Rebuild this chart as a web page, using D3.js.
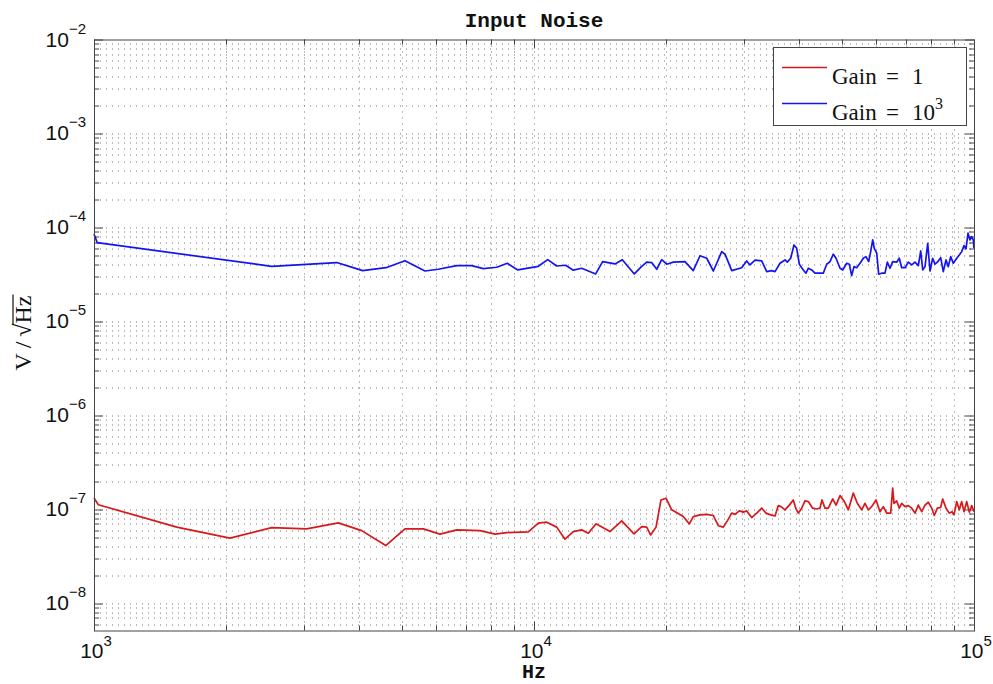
<!DOCTYPE html>
<meta charset="utf-8">
<script src="https://d3js.org/d3.v7.min.js"></script>
<style>
  body { margin: 0; background: #fff; }
</style>
<div id="my_dataviz"></div>
<script>

// ---- data ----
// Gain = 1 (values in units of 1e-8 V/sqrt(Hz))
var redFreq = [1000, 1023, 1542, 2037, 2534, 3043, 3591, 4059, 4603, 5090, 5603, 6116, 6674, 7541, 8155, 8670, 9706,
  10228, 10688, 11261, 11762, 12282, 12834, 13285, 13831, 14882, 15826, 16876, 17571, 18036, 18408, 18937, 19436, 19953,
  20558, 21834, 22542, 23014, 23840, 24696, 25563, 26233, 26932, 27505, 28145, 28630, 29280, 29900, 30436, 31246, 32072,
  32921, 33673, 34514, 35296, 35911, 36425, 37196, 38037, 38842, 39401, 39877, 40588, 41295, 42014, 42993, 43904, 44668,
  45135, 45856, 46658, 47743, 48577, 49606, 50646, 51801, 53174, 54300, 55563, 56531, 57516, 58546, 59880, 61146, 62215,
  63329, 64669, 65342, 65795, 66725, 67640, 68502, 69697, 70911, 72181, 73439, 74719, 76064, 77381, 78730, 80149, 81243,
  82525, 84003, 84880, 86375, 87868, 89125, 90074, 91351, 92601, 93759, 94908, 96261, 97566, 98810, 100000];
var redVal = [13.2, 11.2, 6.47, 4.94, 6.4, 6.2, 7.18, 5.94, 4.12, 6.2, 6.2, 5.45, 6.05, 5.94, 5.45, 5.66, 5.76,
  7.13, 7.3, 6.47, 4.82, 5.8, 6.05, 5.58, 7.01, 5.8, 7.55, 5.49, 6.56, 6.47, 5.35, 6.47, 12.6, 13.15,
  9.88, 8.38, 7.01, 8.38, 8.74, 8.85, 8.6, 6.7, 6.47, 7.55, 9.12, 8.85, 9.63, 9.34, 9.63, 8.18, 9.12,
  10.3, 9.12, 8.74, 8.5, 10.97, 10.7, 9.88, 11.1, 12.6, 10.1, 9.12, 10.3, 12.3, 12.1, 10.3, 10.1, 10.3,
  12.6, 10.3, 10.3, 12.9, 11.1, 14.0, 12.3, 9.88, 14.9, 11.6, 9.88, 11.6, 9.88, 10.7, 12.6, 9.45, 10.7,
  9.12, 9.12, 16.8, 11.6, 12.3, 10.3, 11.6, 10.7, 10.97, 10.3, 9.12, 11.1, 9.45, 11.1, 11.9, 10.3, 8.6,
  10.3, 10.5, 12.9, 10.3, 9.12, 9.45, 8.74, 12.1, 9.88, 12.1, 9.45, 12.1, 9.34, 10.97, 9.45];
var redUnit = 1e-8;

// Gain = 10^3 (values in units of 1e-5 V/sqrt(Hz))
var blueFreq = [1000, 1017, 2534, 3561, 4080, 4609, 5090, 5653, 6061, 6674, 7219, 7670, 8228, 8697, 9183,
  10228, 10743, 11261, 11803, 12282, 12834, 13809, 14324, 15279, 15873, 16904, 17571, 18036, 18515, 19006, 19508,
  20025, 20728, 22031, 23014, 23840, 24696, 25563, 26712, 27177, 28145, 29648, 30436, 30967, 31789, 32921, 33797,
  34691, 35296, 36233, 37196, 37644, 38317, 38985, 39537, 40088, 40926, 41514, 42014, 42767, 43512, 45447, 46262,
  47068, 47888, 48577, 49606, 50308, 51372, 52075, 52723, 53370, 54124, 55270, 56027, 56818, 57634, 58235, 58855,
  59345, 60102, 60728, 61687, 62763, 63533, 64430, 65342, 66725, 67640, 68502, 69697, 70911, 72181, 73439, 74719,
  75671, 76460, 77381, 78493, 79433, 80555, 81543, 82525, 84003, 85152, 86375, 87416, 88512, 89723, 91351, 92601,
  93759, 94908, 95897, 96919, 97929, 98810, 99634, 100000];
var blueVal = [8.5, 6.89, 3.86, 4.23, 3.47, 3.73, 4.43, 3.44, 3.59, 3.93, 3.93, 3.65, 3.77, 4.16, 3.53,
  3.86, 4.54, 3.89, 3.96, 3.51, 3.68, 3.2, 4.33, 4.09, 4.54, 3.2, 3.86, 4.27, 4.23, 3.59, 4.54,
  4.06, 4.27, 4.33, 3.47, 5.0, 4.7, 3.44, 5.53, 5.19, 3.47, 3.73, 4.4, 3.99, 4.48, 4.4, 3.39,
  3.47, 3.39, 4.16, 4.51, 4.27, 4.7, 6.51, 6.0, 4.06, 3.53, 3.26, 3.68, 3.53, 3.26, 3.26, 4.06,
  4.33, 5.19, 4.7, 3.68, 3.53, 4.16, 4.06, 3.07, 3.83, 3.73, 4.27, 4.7, 4.89, 4.33, 5.53, 7.36,
  6.0, 5.32, 3.18, 3.26, 3.26, 4.27, 3.68, 4.33, 4.27, 4.7, 3.73, 3.73, 4.27, 3.99, 4.27, 3.93,
  5.62, 3.53, 3.83, 6.79, 3.44, 4.7, 4.06, 4.27, 4.77, 3.39, 4.51, 3.83, 4.89, 4.16, 4.7, 5.1,
  5.53, 6.4, 5.9, 8.7, 7.36, 7.98, 7.36, 6.0];
var blueUnit = 1e-5;

var xTickExps = [3, 4, 5];
var yTickExps = [-8, -7, -6, -5, -4, -3, -2];
var seriesNames = ["Gain = 1", "Gain = 10^3"];
var seriesColors = ["#d7191c", "#1414f0"];

// ---- layout ----
var W = 993, H = 684;
var margin = {top: 39.5, right: 19, bottom: 53.5, left: 94},
    width = W - margin.left - margin.right,
    height = H - margin.top - margin.bottom;

var svg = d3.select("#my_dataviz")
  .append("svg")
    .attr("width", W)
    .attr("height", H)
    .style("font-family", "'Liberation Sans', Arial, sans-serif");

var g = svg.append("g")
  .attr("transform", "translate(" + margin.left + "," + margin.top + ")");

var x = d3.scaleLog().domain([1e3, 1e5]).range([0, width]);
var y = d3.scaleLog().domain([5.14e-9, 1e-2]).range([height, 0]);

// all log ticks (majors + minors 2..9) inside the domains
function logTicks(sc) {
  var d = sc.domain(), out = [];
  var e0 = Math.floor(Math.log10(d[0])), e1 = Math.ceil(Math.log10(d[1]));
  for (var e = e0; e <= e1; e++) {
    for (var m = 1; m <= 9; m++) {
      var v = m * Math.pow(10, e);
      if (v >= d[0] * 0.999 && v <= d[1] * 1.001) out.push({v: v, major: m === 1});
    }
  }
  return out;
}
var xt = logTicks(x), yt = logTicks(y);

// dotted grid
var grid = g.append("g").attr("class", "grid");
grid.selectAll(".vg").data(xt.filter(function(d){ return d.v > 1e3 && d.v < 1e5; }))
  .enter().append("line")
    .attr("x1", function(d){ return Math.round(x(d.v)) + 0.5; })
    .attr("x2", function(d){ return Math.round(x(d.v)) + 0.5; })
    .attr("y1", 0).attr("y2", height)
    .attr("stroke", "#777").attr("stroke-width", 1)
    .attr("stroke-dasharray", "1,5");
grid.selectAll(".hg").data(yt.filter(function(d){ return d.v < 1e-2; }))
  .enter().append("line")
    .attr("y1", function(d){ return Math.round(y(d.v)) + 0.5; })
    .attr("y2", function(d){ return Math.round(y(d.v)) + 0.5; })
    .attr("x1", 0).attr("x2", width)
    .attr("stroke", "#777").attr("stroke-width", 1)
    .attr("stroke-dasharray", "1,5");

// ticks on all four sides, pointing inward
var tickG = g.append("g").attr("stroke", "#444").attr("stroke-width", 1);
xt.forEach(function(d) {
  var px = Math.round(x(d.v)) + 0.5, L = d.major ? 9 : 5;
  tickG.append("line").attr("x1", px).attr("x2", px).attr("y1", height).attr("y2", height - L);
  tickG.append("line").attr("x1", px).attr("x2", px).attr("y1", 0).attr("y2", L);
});
yt.forEach(function(d) {
  var py = Math.round(y(d.v)) + 0.5, L = d.major ? 9 : 5;
  tickG.append("line").attr("y1", py).attr("y2", py).attr("x1", 0).attr("x2", L);
  tickG.append("line").attr("y1", py).attr("y2", py).attr("x1", width).attr("x2", width - L);
});

// series
var line = d3.line()
  .x(function(d){ return x(d[0]); })
  .y(function(d){ return y(d[1]); });

var redData = redFreq.map(function(f, i){ return [f, redVal[i] * redUnit]; });
var blueData = blueFreq.map(function(f, i){ return [f, blueVal[i] * blueUnit]; });

g.append("path").datum(redData)
  .attr("d", line).attr("fill", "none")
  .attr("stroke", seriesColors[0]).attr("stroke-width", 1.7).attr("stroke-linejoin", "round");
g.append("path").datum(blueData)
  .attr("d", line).attr("fill", "none")
  .attr("stroke", seriesColors[1]).attr("stroke-width", 1.7).attr("stroke-linejoin", "round");

// frame
g.append("rect")
  .attr("x", 0.5).attr("y", 0.5).attr("width", width).attr("height", height)
  .attr("fill", "none").attr("stroke", "#444").attr("stroke-width", 1);

// tick labels (10^n)
xTickExps.forEach(function(e) {
  var t = g.append("text")
    .attr("x", x(Math.pow(10, e)) + 2).attr("y", height + 27)
    .attr("text-anchor", "middle").attr("font-size", "21px").attr("fill", "#111");
  t.append("tspan").text("10");
  t.append("tspan").attr("dy", -12).attr("font-size", "15px").text(e);
});
yTickExps.forEach(function(e) {
  var t = g.append("text")
    .attr("x", -8).attr("y", y(Math.pow(10, e)) + 7)
    .attr("text-anchor", "end").attr("font-size", "21px").attr("fill", "#111");
  t.append("tspan").text("10");
  t.append("tspan").attr("dy", -13).attr("font-size", "15px").text(String(e).replace("-", "\u2212"));
});

// title and x label
svg.append("text")
  .attr("x", margin.left + width / 2).attr("y", 27)
  .attr("text-anchor", "middle")
  .attr("font-family", "'Liberation Mono', 'DejaVu Sans Mono', monospace")
  .attr("font-size", "21px").attr("font-weight", "bold").attr("fill", "#111")
  .text("Input Noise");
svg.append("text")
  .attr("x", margin.left + width / 2).attr("y", 678)
  .attr("text-anchor", "middle")
  .attr("font-family", "'Liberation Mono', 'DejaVu Sans Mono', monospace")
  .attr("font-size", "20px").attr("font-weight", "bold").attr("fill", "#111")
  .text("Hz");

// y label  V / sqrt(Hz)
var yl = svg.append("g").attr("transform", "translate(31," + (margin.top + height / 2 - 2) + ") rotate(-90)");
var ylt = yl.append("text")
  .attr("x", 0).attr("y", 0)
  .attr("text-anchor", "middle")
  .attr("font-family", "'Liberation Serif', 'DejaVu Serif', serif")
  .attr("font-size", "24px").attr("fill", "#111");
ylt.append("tspan").text("V\u2009/\u2009\u221A");
ylt.append("tspan").attr("id", "hz").text("Hz");
var hzBox = document.getElementById("hz").getBBox();
yl.append("line")
  .attr("x1", hzBox.x - 1).attr("x2", hzBox.x + hzBox.width + 1)
  .attr("y1", hzBox.y + 3).attr("y2", hzBox.y + 3)
  .attr("stroke", "#111").attr("stroke-width", 1.2);

// legend
var lg = svg.append("g").attr("font-family", "'Liberation Serif', 'DejaVu Serif', serif");
lg.append("rect")
  .attr("x", 773.5).attr("y", 47.5).attr("width", 193).attr("height", 78)
  .attr("fill", "#fff").attr("stroke", "#444").attr("stroke-width", 1);
[0, 1].forEach(function(i) {
  var ly = 67.5 + i * 36;
  lg.append("line")
    .attr("x1", 782).attr("x2", 827).attr("y1", ly).attr("y2", ly)
    .attr("stroke", seriesColors[i]).attr("stroke-width", 1.7);
  var base = ly + 16.5;
  lg.append("text").attr("x", 832).attr("y", base).attr("font-size", "23px").attr("fill", "#111").text("Gain");
  lg.append("text").attr("x", 886).attr("y", base).attr("font-size", "23px").attr("fill", "#111").text("=");
  var parts = seriesNames[i].split("= ")[1].split("^");
  var vt = lg.append("text").attr("x", 912).attr("y", base).attr("font-size", "23px").attr("fill", "#111");
  vt.append("tspan").text(parts[0]);
  if (parts[1]) vt.append("tspan").attr("dy", -11).attr("font-size", "16px").text(parts[1]);
});

</script>
